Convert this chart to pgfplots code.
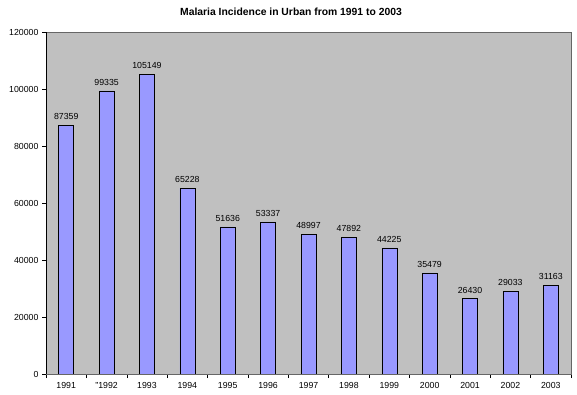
\documentclass[border=0pt]{standalone}
\usepackage{fontspec}
\setmainfont{Liberation Sans}
\usepackage{pgfplots}
\pgfplotsset{compat=1.18}
\definecolor{plotbg}{HTML}{C0C0C0}
\definecolor{barfill}{HTML}{9999FF}
\begin{document}
\begin{tikzpicture}
\path[use as bounding box] (-46bp,-21bp) rectangle (531bp,374bp);
\begin{axis}[
  at={(0,0)}, anchor=south west,
  scale only axis, width=525bp, height=342bp,
  xmin=-0.5, xmax=12.5, ymin=0, ymax=120000,
  axis background/.style={fill=plotbg},
  axis line style={draw=gray!80!black},
  ytick={0,20000,...,120000},
  scaled y ticks=false,
  /pgf/number format/.cd, fixed, 1000 sep={}, assume math mode=true, /pgfplots/.cd,
  xtick={0,...,12},
  xticklabels={1991,{"1992},1993,1994,1995,1996,1997,1998,1999,2000,2001,2002,2003},
  minor xtick={-0.5,0.5,...,12.5},
  major x tick style={draw=none},
  minor x tick style={black, thin},
  y tick style={black, thin},
  tick align=outside, tick pos=left,
  major tick length=4bp, minor tick length=4bp,
  tick label style={font=\fontsize{8.8}{10}\selectfont},
  xticklabel style={yshift=-1bp},
  yticklabel style={xshift=0bp},
  nodes near coords,
  every node near coord/.append style={font=\fontsize{8.8}{10}\selectfont, yshift=2bp, /pgf/number format/.cd, fixed, 1000 sep={}, assume math mode=true},
]
\addplot[ybar, bar width=15bp, fill=barfill, draw=black, thin] coordinates {
 (0,87359) (1,99335) (2,105149) (3,65228) (4,51636) (5,53337) (6,48997)
 (7,47892) (8,44225) (9,35479) (10,26430) (11,29033) (12,31163)};
\draw[black, thin] (rel axis cs:0,0) -- (rel axis cs:0,1);
\draw[black, thin] (rel axis cs:0,0) -- (rel axis cs:1,0);
\end{axis}
\node[font=\bfseries\fontsize{10.4}{12}\selectfont] at (245bp,362bp) {Malaria Incidence in Urban from 1991 to 2003};
\end{tikzpicture}
\end{document}
